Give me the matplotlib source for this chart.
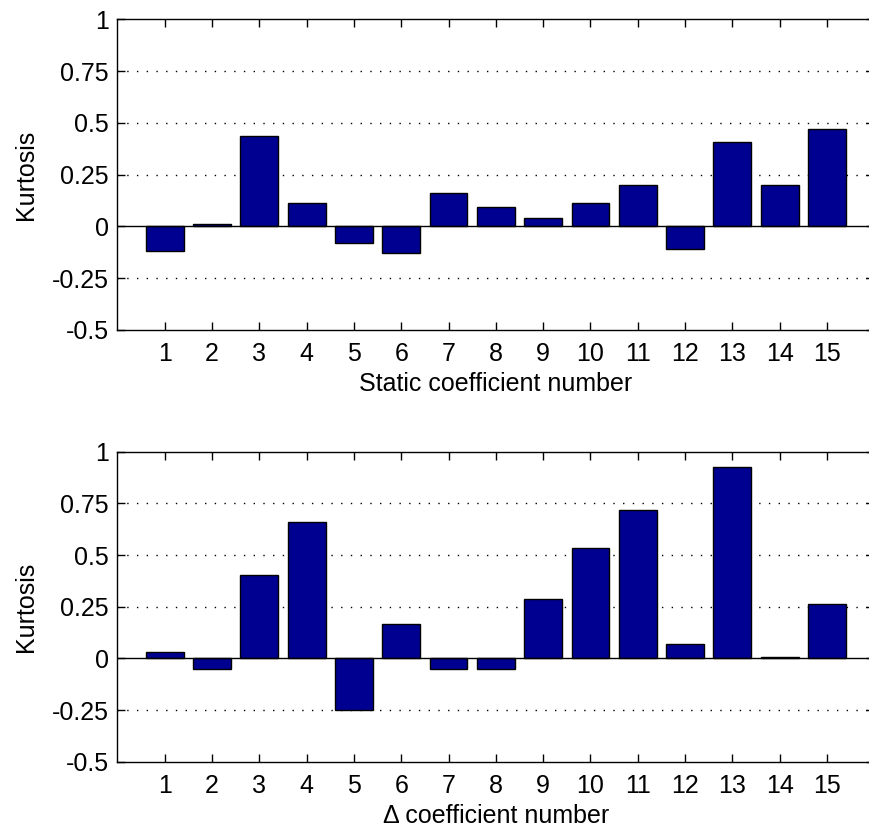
import matplotlib
matplotlib.use("Agg")
import matplotlib.pyplot as plt
import numpy as np

plt.rcParams['font.family'] = ['Liberation Sans', 'DejaVu Sans']

coef = list(range(1, 16))
static_kurt = [-0.117, 0.01, 0.438, 0.115, -0.079, -0.128, 0.162, 0.094, 0.039,
               0.115, 0.202, -0.108, 0.409, 0.202, 0.468]
delta_kurt = [0.031, -0.05, 0.403, 0.662, -0.25, 0.166, -0.05, -0.05, 0.287,
              0.536, 0.718, 0.068, 0.927, 0.008, 0.261]
yticks = [-0.5, -0.25, 0, 0.25, 0.5, 0.75, 1]
ytick_labels = ["-0.5", "-0.25", "0", "0.25", "0.5", "0.75", "1"]
xlabels = ["Static coefficient number", "\u0394 coefficient number"]
ylabel = "Kurtosis"

fig = plt.figure(figsize=(8.7, 8.32), dpi=100)
ax1 = fig.add_axes([0.1349, 0.6034, 0.870, 0.3734])
ax2 = fig.add_axes([0.1349, 0.0845, 0.870, 0.3726])

fs = 18
for ax, vals, xl in [(ax1, static_kurt, xlabels[0]), (ax2, delta_kurt, xlabels[1])]:
    ax.set_xlim(0, 16)
    ax.set_ylim(-0.5, 1)
    for y in [-0.25, 0.25, 0.5, 0.75]:
        ax.axhline(y, color='black', linewidth=1.0, linestyle=(0, (1, 6)), zorder=1)
    ax.bar(coef, vals, width=0.8, color='#000090', edgecolor='black',
           linewidth=1.0, zorder=2)
    ax.axhline(0, color='black', linewidth=1.0, zorder=3)
    ax.set_xticks(coef)
    ax.set_xticklabels([str(c) for c in coef], fontsize=fs)
    ax.set_yticks(yticks)
    ax.set_yticklabels(ytick_labels, fontsize=fs)
    ax.tick_params(direction='in', length=6, width=1.0, top=True, right=True)
    ax.tick_params(axis='x', pad=9)
    ax.tick_params(axis='y', pad=6)
    ax.set_xlabel(xl, fontsize=fs, labelpad=4)
    ax.set_ylabel(ylabel, fontsize=fs, labelpad=10)
    for s in ax.spines.values():
        s.set_linewidth(1.0)

fig.savefig("out.png", dpi=100)
